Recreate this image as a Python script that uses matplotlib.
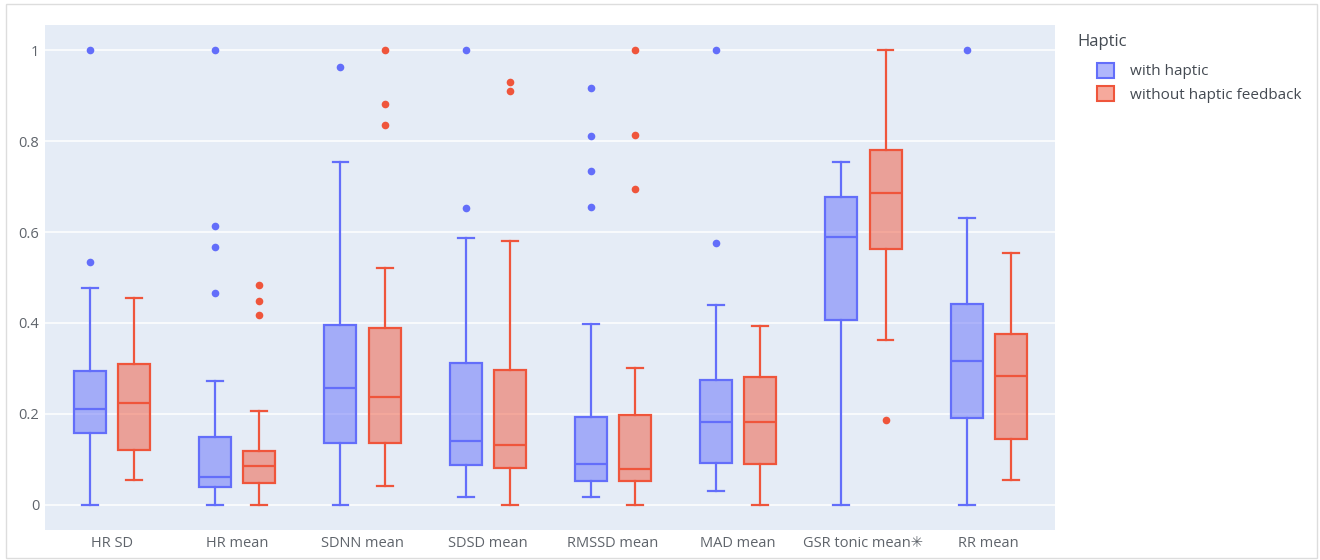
import numpy as np
import matplotlib
matplotlib.use('Agg')
import matplotlib.pyplot as plt
from matplotlib.colors import to_rgba
from matplotlib.patches import Patch, Rectangle

plt.rcParams['font.family'] = ['Open Sans', 'DejaVu Sans']

# categories on the x axis
categories = ['HR SD', 'HR mean', 'SDNN mean', 'SDSD mean', 'RMSSD mean',
              'MAD mean', 'GSR tonic mean\u2733', 'RR mean']

# with haptic (box stats)
haptic_low = [0.0, 0.0, 0.0, 0.017, 0.017, 0.031, 0.0, 0.0]
haptic_q1 = [0.159, 0.039, 0.136, 0.088, 0.053, 0.092, 0.407, 0.191]
haptic_med = [0.211, 0.061, 0.257, 0.141, 0.089, 0.183, 0.590, 0.316]
haptic_q3 = [0.295, 0.149, 0.396, 0.311, 0.194, 0.275, 0.678, 0.441]
haptic_high = [0.478, 0.273, 0.754, 0.586, 0.398, 0.440, 0.753, 0.631]
haptic_out = [[1.0, 0.534], [1.0, 0.614, 0.566, 0.465], [0.962], [1.0, 0.652],
              [0.916, 0.81, 0.735, 0.656], [1.0, 0.575], [], [1.0]]

# without haptic feedback
nohap_low = [0.056, 0.0, 0.042, 0.0, 0.0, 0.0, 0.363, 0.055]
nohap_q1 = [0.121, 0.048, 0.136, 0.082, 0.053, 0.090, 0.563, 0.145]
nohap_med = [0.225, 0.086, 0.237, 0.132, 0.079, 0.182, 0.685, 0.284]
nohap_q3 = [0.309, 0.119, 0.389, 0.297, 0.197, 0.281, 0.780, 0.375]
nohap_high = [0.456, 0.206, 0.521, 0.581, 0.302, 0.393, 1.0, 0.553]
nohap_out = [[], [0.483, 0.449, 0.417], [1.0, 0.881, 0.835], [0.930, 0.911],
             [1.0, 0.813, 0.694], [], [0.187], []]

series_names = ['with haptic', 'without haptic feedback']
colors = ['#636EFA', '#EF553B']


def draw_boxes(ax, low, q1, med, q3, high, out, offset, color):
    stats = []
    for i in range(len(categories)):
        stats.append(dict(whislo=low[i], q1=q1[i], med=med[i], q3=q3[i],
                          whishi=high[i], fliers=out[i]))
    pos = np.arange(len(categories)) + offset
    ax.bxp(stats, positions=pos, widths=0.255, capwidths=0.127,
           patch_artist=True, showfliers=True, manage_ticks=False,
           boxprops=dict(facecolor=to_rgba(color, 0.5), edgecolor=color, linewidth=1.6),
           medianprops=dict(color=color, linewidth=1.6),
           whiskerprops=dict(color=color, linewidth=1.6),
           capprops=dict(color=color, linewidth=1.6),
           flierprops=dict(marker='o', markerfacecolor=color, markeredgecolor='none',
                           markersize=5.5))


fig = plt.figure(figsize=(13.2, 5.6), dpi=100)
fig.patch.set_facecolor('white')
ax = fig.add_axes([45 / 1320, 30 / 560, 1010 / 1320, 505 / 560])
ax.set_facecolor('#E5ECF6')

draw_boxes(ax, haptic_low, haptic_q1, haptic_med, haptic_q3, haptic_high, haptic_out,
           -0.176, colors[0])
draw_boxes(ax, nohap_low, nohap_q1, nohap_med, nohap_q3, nohap_high, nohap_out,
           0.176, colors[1])

ax.set_xlim(-0.535, len(categories) - 0.471)
ax.set_ylim(-0.055, 1.055)
ax.set_xticks(np.arange(len(categories)))
ax.set_xticklabels(categories)
ax.set_yticks([0, 0.2, 0.4, 0.6, 0.8, 1])
ax.set_yticklabels(['0', '0.2', '0.4', '0.6', '0.8', '1'])
ax.tick_params(axis='both', length=0, labelsize=10.5, colors='#5f646b')
ax.tick_params(axis='y', pad=4)
ax.tick_params(axis='x', pad=4)
ax.yaxis.grid(True, color='white', linewidth=1.1)
ax.xaxis.grid(False)
ax.set_axisbelow(True)
for s in ax.spines.values():
    s.set_visible(False)

# legend
fig.text(1077 / 1320, 1 - 42 / 560, 'Haptic', fontsize=12, color='#444a52', va='center')
handles = [Patch(facecolor=to_rgba(c, 0.5), edgecolor=c, linewidth=1.5, label=n)
           for c, n in zip(colors, series_names)]
fig.legend(handles=handles, loc='upper left', bbox_to_anchor=(1086 / 1320, 1 - 52 / 560),
           frameon=False, fontsize=11, handlelength=1.15, handleheight=1.15,
           handletextpad=1.0, labelspacing=0.45, borderpad=0.2, labelcolor='#444a52')

# thin frame round the picture
fig.patches.append(Rectangle((6 / 1320, 2 / 560), 1311 / 1320, 554 / 560,
                             transform=fig.transFigure, fill=False,
                             edgecolor='#dddddd', linewidth=1))

fig.savefig('out.png', dpi=100)
